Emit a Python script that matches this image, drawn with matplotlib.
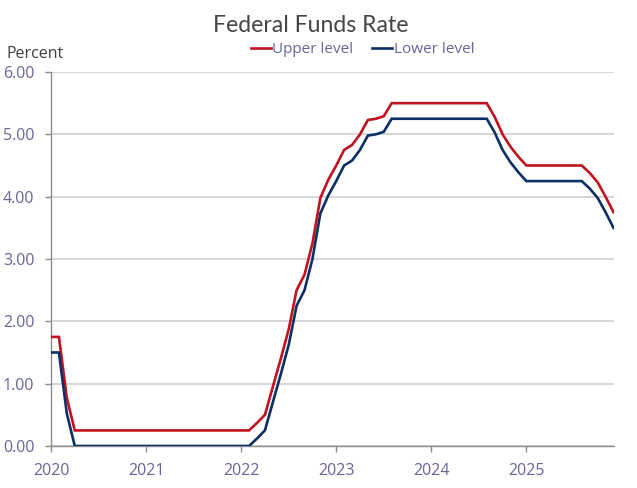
import matplotlib
matplotlib.use("Agg")
import matplotlib.pyplot as plt
import numpy as np

plt.rcParams['font.family'] = ['Open Sans', 'DejaVu Sans']

years = ["2020", "2021", "2022", "2023", "2024", "2025"]
y_ticks = [0, 1, 2, 3, 4, 5, 6]

upper = [
    # 2020
    1.75, 1.75, 0.77, 0.25, 0.25, 0.25, 0.25, 0.25, 0.25, 0.25, 0.25, 0.25,
    # 2021
    0.25, 0.25, 0.25, 0.25, 0.25, 0.25, 0.25, 0.25, 0.25, 0.25, 0.25, 0.25,
    # 2022
    0.25, 0.25, 0.37, 0.50, 0.95, 1.40, 1.87, 2.50, 2.75, 3.25, 3.98, 4.27,
    # 2023
    4.50, 4.75, 4.83, 5.00, 5.23, 5.25, 5.29, 5.50, 5.50, 5.50, 5.50, 5.50,
    # 2024
    5.50, 5.50, 5.50, 5.50, 5.50, 5.50, 5.50, 5.50, 5.28, 5.00, 4.80, 4.64,
    # 2025
    4.50, 4.50, 4.50, 4.50, 4.50, 4.50, 4.50, 4.50, 4.38, 4.23, 4.00, 3.75,
]
lower = [
    # 2020
    1.50, 1.50, 0.52, 0.00, 0.00, 0.00, 0.00, 0.00, 0.00, 0.00, 0.00, 0.00,
    # 2021
    0.00, 0.00, 0.00, 0.00, 0.00, 0.00, 0.00, 0.00, 0.00, 0.00, 0.00, 0.00,
    # 2022
    0.00, 0.00, 0.12, 0.25, 0.70, 1.15, 1.62, 2.25, 2.50, 3.00, 3.73, 4.02,
    # 2023
    4.25, 4.50, 4.58, 4.75, 4.98, 5.00, 5.04, 5.25, 5.25, 5.25, 5.25, 5.25,
    # 2024
    5.25, 5.25, 5.25, 5.25, 5.25, 5.25, 5.25, 5.25, 5.03, 4.75, 4.55, 4.39,
    # 2025
    4.25, 4.25, 4.25, 4.25, 4.25, 4.25, 4.25, 4.25, 4.13, 3.98, 3.75, 3.50,
]

RED = "#c0121f"
NAVY = "#0c2f66"
LABEL = "#66669a"
GRID = "#cfcfcf"
SPINE = "#8c8c8c"

fig = plt.figure(figsize=(6.37, 4.88), dpi=100)
ax = fig.add_axes([51/637, 1-446/488, (613.5-51)/637, (446-72)/488])

x = np.arange(len(upper))
ax.plot(x, upper, color=RED, lw=1.9, label="Upper level", solid_joinstyle="miter", zorder=3)
ax.plot(x, lower, color=NAVY, lw=1.9, label="Lower level", solid_joinstyle="miter", zorder=3)

ax.set_xlim(0, len(upper) - 1)
ax.set_ylim(0, 6)
ax.set_yticks(y_ticks)
ax.set_yticklabels([f"{v:.2f}" for v in y_ticks])
ax.set_xticks(np.arange(len(years)) * 12)
ax.set_xticklabels(years)

ax.grid(axis="y", color=GRID, lw=1.2, zorder=0)
ax.set_axisbelow(True)
for s in ["top", "right"]:
    ax.spines[s].set_visible(False)
for s in ["left", "bottom"]:
    ax.spines[s].set_color(SPINE)
    ax.spines[s].set_linewidth(1.0)

ax.tick_params(axis="y", length=4, width=1.0, color=SPINE, labelcolor=LABEL,
               labelsize=11.5, pad=8)
ax.tick_params(axis="x", length=4, width=1.0, color=SPINE, labelcolor=LABEL,
               labelsize=11.5, pad=8)

fig.text(311/637, 1-31.5/488, "Federal Funds Rate", ha="center", va="baseline",
         fontsize=16.6, color="#454545", family=["Lato", "DejaVu Sans"])
fig.text(7/637, 1-58/488, "Percent", ha="left", va="baseline",
         fontsize=11.5, color="#404040")

fig.legend(loc="center", bbox_to_anchor=(362.5/637, 1-49.5/488), ncol=2, frameon=False,
           handlelength=1.3, handletextpad=0.1, columnspacing=1.25,
           fontsize=11, labelcolor=LABEL)

fig.savefig("out.png", dpi=100)
